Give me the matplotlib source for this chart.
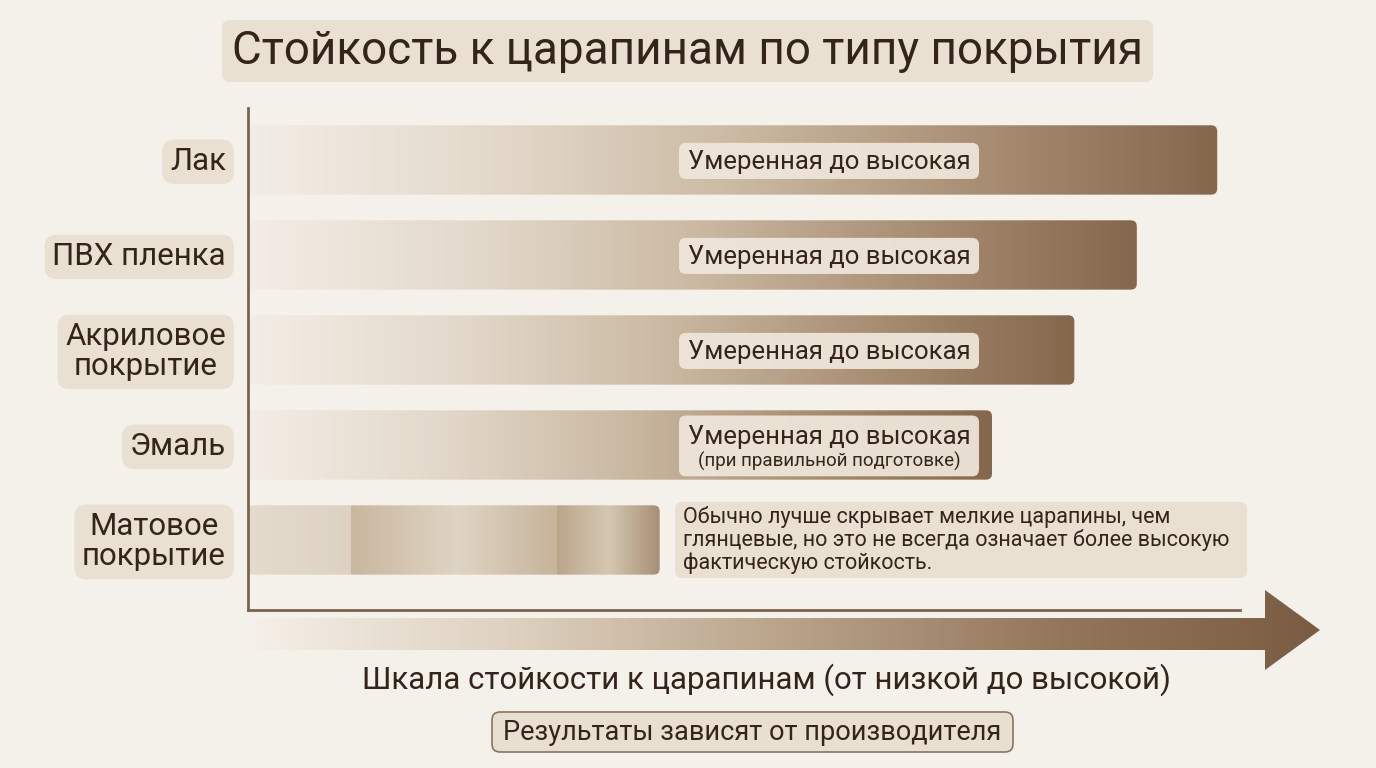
import numpy as np
import matplotlib
matplotlib.use("Agg")
import matplotlib.pyplot as plt
from matplotlib.colors import LinearSegmentedColormap
from matplotlib.patches import FancyBboxPatch, Polygon
import matplotlib.transforms as mtransforms

plt.rcParams["font.family"] = ["Roboto", "DejaVu Sans"]

# ---- data ----
categories = ["Лак", "ПВХ пленка", "Акриловое\nпокрытие", "Эмаль", "Матовое\nпокрытие"]
resistance = [97.7, 89.6, 83.3, 75.0, 41.5]   # position on the 0..100 scale
bar_notes = ["Умеренная до высокая", "Умеренная до высокая", "Умеренная до высокая",
             "Умеренная до высокая", None]
bar_subnotes = [None, None, None, "(при правильной подготовке)", None]
matte_note = ("Обычно лучше скрывает мелкие царапины, чем\n"
              "глянцевые, но это не всегда означает более высокую\n"
              "фактическую стойкость.")
title = "Стойкость к царапинам по типу покрытия"
xlabel = "Шкала стойкости к царапинам (от низкой до высокой)"
footer = "Результаты зависят от производителя"

BG = "#f4f1ea"
TXT = "#34241a"
BOX = "#e9e0d2"
AXC = "#7a6350"

W, H = 1376, 768
fig = plt.figure(figsize=(W / 100, H / 100), dpi=100)
fig.patch.set_facecolor(BG)

# overlay in pixel coordinates for decorations
ov = fig.add_axes([0, 0, 1, 1], zorder=0)
ov.set_xlim(0, W)
ov.set_ylim(H, 0)
ov.axis("off")
ov.patch.set_alpha(0)

# main data axes
L, R, T, B = 248, 1240, 108, 610
ax = fig.add_axes([L / W, 1 - B / H, (R - L) / W, (B - T) / H], zorder=1)
ax.patch.set_alpha(0)
ax.set_xlim(0, 100)
ax.set_ylim(4.737, -0.547)
px_x = (R - L) / 100.0
px_y = 95.0
bar_h = 0.73
rad = 6.0

bar_cmap = LinearSegmentedColormap.from_list(
    "bar", ["#f2ede5", "#e3d9cb", "#cbbaa3", "#a98f74", "#85674c"])
grad = np.linspace(0, 1, 256).reshape(1, -1)


def rbox(x, y, w, h, **kw):
    return FancyBboxPatch((x, y), w, h,
                          boxstyle=f"round,pad=0,rounding_size={7 / px_x}",
                          mutation_aspect=px_x / px_y, **kw)


for i, v in enumerate(resistance):
    y0 = i - bar_h / 2
    clip = FancyBboxPatch((0, y0), v, bar_h,
                          boxstyle=f"round,pad=0,rounding_size={rad / px_x}",
                          mutation_aspect=px_x / px_y,
                          fc="none", ec="none", transform=ax.transData)
    ax.add_patch(clip)
    if i < len(resistance) - 1:
        im = ax.imshow(grad, extent=[0, v, i + bar_h / 2, i - bar_h / 2],
                       aspect="auto", cmap=bar_cmap, vmin=0, vmax=1,
                       interpolation="bicubic", zorder=2)
        im.set_clip_path(clip)
    else:
        # matte coating: four shaded strips
        seg_stops = [["#e4dbcd", "#ddd2c2"], ["#c9b79f", "#ded3c2"],
                     ["#e0d5c5", "#c6b49b"], ["#bba68b", "#d5c7b2", "#a78f73"]]
        n = len(seg_stops)
        for k, stops in enumerate(seg_stops):
            cm = LinearSegmentedColormap.from_list(f"m{k}", stops)
            im = ax.imshow(grad, extent=[v * k / n, v * (k + 1) / n,
                                         i + bar_h / 2, i - bar_h / 2],
                           aspect="auto", cmap=cm, vmin=0, vmax=1,
                           interpolation="bicubic", zorder=2)
            im.set_clip_path(clip)

    note = bar_notes[i]
    if note:
        xc = (829 - L) / px_x
        if bar_subnotes[i]:
            ax.text(xc, i - 0.085, note, ha="center", va="center", fontsize=18.5,
                    color=TXT, zorder=4)
            ax.text(xc, i + 0.175, bar_subnotes[i], ha="center", va="center",
                    fontsize=13.5, color=TXT, zorder=4)
            box = rbox((679 - L) / px_x, i - 0.31, 300 / px_x, 0.64,
                       fc="#efe7db", ec="none", alpha=0.93, zorder=3)
        else:
            ax.text(xc, i + 0.02, note, ha="center", va="center", fontsize=18.5,
                    color=TXT, zorder=4)
            box = rbox((679 - L) / px_x, i - 0.18, 300 / px_x, 0.38,
                       fc="#efe7db", ec="none", alpha=0.93, zorder=3)
        ax.add_patch(box)

# matte note box
mi = len(categories) - 1
nb = rbox((675 - L) / px_x, mi - 0.4, 572 / px_x, 0.8,
          fc=BOX, ec="none", zorder=3, clip_on=False)
ax.add_patch(nb)
ax.text((683 - L) / px_x, mi, matte_note, ha="left", va="center", fontsize=15.5,
        color=TXT, linespacing=1.08, zorder=4, clip_on=False)

# category labels
trans = mtransforms.blended_transform_factory(ax.transAxes, ax.transData)
for i, c in enumerate(categories):
    ax.text(-22 / (R - L), i + 0.02, c, transform=trans, ha="right", va="center",
            multialignment="center", fontsize=22.5, color=TXT, linespacing=1.05,
            bbox=dict(boxstyle="round,pad=0.25,rounding_size=0.4", fc=BOX, ec="none"))

# axes
ax.set_xticks([])
ax.set_yticks([])
for s in ["top", "right"]:
    ax.spines[s].set_visible(False)
for s in ["left", "bottom"]:
    ax.spines[s].set_color(AXC)
    ax.spines[s].set_linewidth(2)

# big gradient arrow
arr_cmap = LinearSegmentedColormap.from_list(
    "arr", ["#f4efe8", "#ddd0bf", "#b9a38a", "#94785d", "#7a5c42"])
arrow = Polygon([[248, 618], [1265, 618], [1265, 590], [1320, 630],
                 [1265, 670], [1265, 650], [248, 650]], closed=True,
                fc="none", ec="none")
ov.add_patch(arrow)
aim = ov.imshow(grad, extent=[248, 1320, 670, 590], aspect="auto",
                cmap=arr_cmap, interpolation="bicubic")
aim.set_clip_path(arrow)
ov.set_xlim(0, W)
ov.set_ylim(H, 0)

# title
ov.add_patch(FancyBboxPatch((222, 20), 931, 62,
                            boxstyle="round,pad=0,rounding_size=8",
                            fc="#e9e0d2", ec="none"))
ov.text(688, 51, title, ha="center", va="center", fontsize=33, color=TXT)

# x label
ov.text(766, 680, xlabel, ha="center", va="center", fontsize=22.5, color=TXT)

# footer
ov.add_patch(FancyBboxPatch((492, 712), 521, 40,
                            boxstyle="round,pad=0,rounding_size=8",
                            fc="#e9dfd0", ec="#8a7560", lw=1.2))
ov.text(752, 732, footer, ha="center", va="center", fontsize=19.5, color=TXT)

fig.savefig("out.png", dpi=100, facecolor=BG)
